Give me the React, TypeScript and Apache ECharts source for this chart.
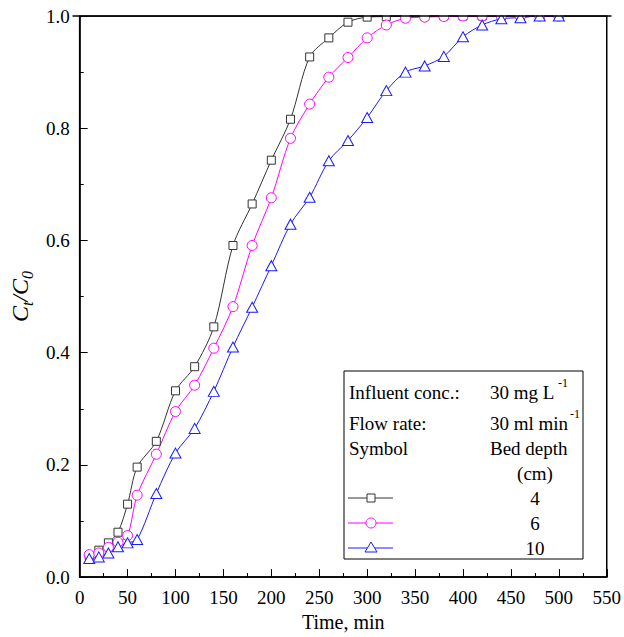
import React, { useEffect, useRef } from 'react';
import * as echarts from 'echarts';

const timeMin = [10, 20, 30, 40, 50, 60, 80, 100, 120, 140, 160, 180, 200, 220, 240, 260, 280, 300, 320, 340, 360, 380, 400, 420, 440, 460, 480, 500];
const depth4 = [0.038, 0.048, 0.061, 0.080, 0.130, 0.196, 0.242, 0.332, 0.375, 0.446, 0.591, 0.665, 0.743, 0.816, 0.927, 0.961, 0.989, 0.998, 0.999, 1.0, 1.0, 1.0, 1.0, 1.0, 1.0, 1.0, 1.0, 1.0];
const depth6 = [0.040, 0.043, 0.053, 0.062, 0.074, 0.146, 0.219, 0.295, 0.342, 0.408, 0.482, 0.591, 0.676, 0.782, 0.843, 0.891, 0.926, 0.961, 0.984, 0.996, 0.998, 0.999, 1.0, 1.0, 1.0, 1.0, 1.0, 1.0];
const depth10 = [0.033, 0.036, 0.043, 0.054, 0.061, 0.067, 0.149, 0.221, 0.265, 0.331, 0.410, 0.481, 0.555, 0.629, 0.677, 0.742, 0.778, 0.819, 0.867, 0.900, 0.911, 0.928, 0.963, 0.984, 0.995, 0.997, 1.0, 1.0];
const bedDepthLabels = ['4', '6', '10'];

const SERIF = '"Liberation Serif", "Times New Roman", serif';

function pairs(ys: number[]) {
  return timeMin.map((t, i) => [t, ys[i]]);
}

export default function App() {
  const ref = useRef<HTMLDivElement>(null);
  useEffect(() => {
    if (!ref.current) return;
    const chart = echarts.init(ref.current, undefined, { renderer: 'svg' });
    const txt = (text: string, x: number, y: number, size = 19, align = 'left') => ({
      type: 'text',
      z: 110,
      style: {
        text, x, y, fill: '#000',
        font: `${size}px ${SERIF}`,
        align, textAlign: align,
        verticalAlign: 'middle', textVerticalAlign: 'middle',
      },
    });
    const legendSym = (kind: string, color: string, y: number) => {
      const items: any[] = [
        { type: 'line', z: 110, shape: { x1: 348, y1: y, x2: 393, y2: y }, style: { stroke: color, lineWidth: 1 } },
      ];
      if (kind === 'rect') {
        items.push({ type: 'rect', z: 111, shape: { x: 367, y: y - 4, width: 8, height: 8 }, style: { fill: '#fff', stroke: color, lineWidth: 1 } });
      } else if (kind === 'circle') {
        items.push({ type: 'circle', z: 111, shape: { cx: 371, cy: y, r: 5 }, style: { fill: '#fff', stroke: color, lineWidth: 1 } });
      } else {
        items.push({ type: 'polygon', z: 111, shape: { points: [[371, y - 6], [365, y + 4], [377, y + 4]] }, style: { fill: '#fff', stroke: color, lineWidth: 1 } });
      }
      return items;
    };
    const colors = ['#333333', '#ff00ff', '#1a1aff'];
    const kinds = ['rect', 'circle', 'triangle'];
    const rowsY = [498, 523, 548];

    const graphic: any[] = [
      { type: 'rect', z: 100, shape: { x: 73, y: 0, width: 540, height: 15.3 }, style: { fill: '#fff' } },
      { type: 'line', z: 101, shape: { x1: 72.5, y1: 16, x2: 611.5, y2: 16 }, style: { stroke: '#000', lineWidth: 1.5 } },
      { type: 'rect', z: 105, shape: { x: 344, y: 371, width: 239, height: 188 }, style: { fill: '#fff', stroke: '#000', lineWidth: 1 } },
      txt('Influent conc.:', 349, 392),
      txt('30 mg L', 490, 392),
      txt('-1', 558, 383, 12),
      txt('Flow rate:', 349, 423),
      txt('30 ml min', 490, 423),
      txt('-1', 570, 414, 12),
      txt('Symbol', 349, 448),
      txt('Bed depth', 490, 448),
      txt('(cm)', 535, 473, 19, 'center'),
    ];
    bedDepthLabels.forEach((lab, i) => {
      graphic.push(...legendSym(kinds[i], colors[i], rowsY[i]));
      graphic.push(txt(lab, 535, rowsY[i], 19, 'center'));
    });

    const mkSeries = (name: string, ys: number[], i: number) => ({
      name,
      type: 'line',
      data: pairs(ys),
      smooth: 0.3,
      symbol: kinds[i],
      symbolSize: i === 0 ? 8 : i === 1 ? 10 : [11, 10],
      showAllSymbol: true,
      lineStyle: { color: colors[i], width: 1 },
      itemStyle: { color: '#fff', borderColor: colors[i], borderWidth: 1 },
      emphasis: { disabled: true },
      clip: false,
    });

    chart.setOption({
      animation: false,
      grid: { left: 73, right: 13, top: 16, bottom: 56, show: true, borderColor: '#000', borderWidth: 1.5, backgroundColor: 'transparent' },
      xAxis: {
        type: 'value', min: 0, max: 550, interval: 50,
        name: 'Time, min', nameLocation: 'middle', nameGap: 31,
        nameTextStyle: { fontFamily: SERIF, fontSize: 20, color: '#000' },
        axisLine: { show: true, lineStyle: { color: '#000', width: 1.5 } },
        axisTick: { show: true, inside: true, length: 8, lineStyle: { color: '#000', width: 1 } },
        minorTick: { show: true, splitNumber: 2, length: 4, lineStyle: { color: '#000', width: 1 } },
        axisLabel: { fontFamily: SERIF, fontSize: 19, color: '#000', margin: 11 },
        splitLine: { show: false },
      },
      yAxis: {
        type: 'value', min: 0, max: 1, interval: 0.2,
        name: '{c|C}{s|t}{c|/C}{s|0}', nameLocation: 'middle', nameGap: 32, nameRotate: 90,
        nameTextStyle: {
          color: '#000',
          rich: {
            c: { fontFamily: SERIF, fontSize: 24, fontStyle: 'italic', color: '#000', lineHeight: 30 },
            s: { fontFamily: SERIF, fontSize: 16, fontStyle: 'italic', color: '#000', lineHeight: 16, verticalAlign: 'bottom' },
          },
        },
        axisLine: { show: true, lineStyle: { color: '#000', width: 1.5 } },
        axisTick: { show: true, inside: true, length: 8, lineStyle: { color: '#000', width: 1 } },
        minorTick: { show: true, splitNumber: 2, length: 4, lineStyle: { color: '#000', width: 1 } },
        axisLabel: { fontFamily: SERIF, fontSize: 19, color: '#000', margin: 10, formatter: (v: number) => v.toFixed(1) },
        splitLine: { show: false },
      },
      series: [mkSeries('4', depth4, 0), mkSeries('6', depth6, 1), mkSeries('10', depth10, 2)],
      graphic,
    });
    return () => chart.dispose();
  }, []);
  return <div ref={ref} style={{ position: 'absolute', left: 0, top: 0, width: 624, height: 637, background: '#fff' }} />;
}
